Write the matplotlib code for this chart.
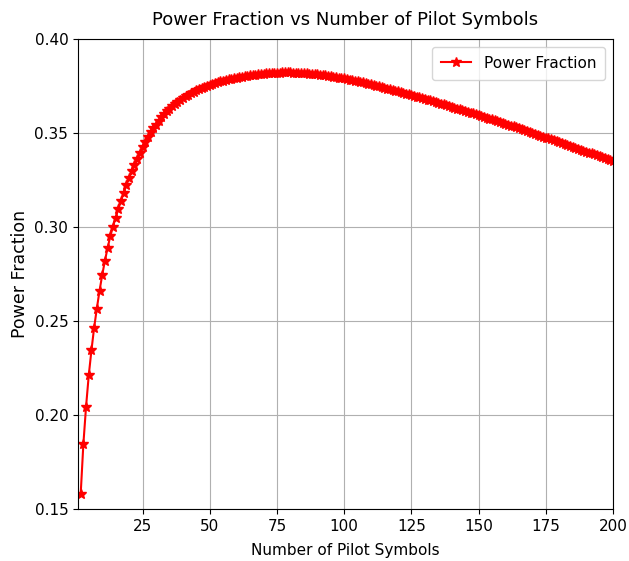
import numpy as np
import matplotlib
matplotlib.use('Agg')
import matplotlib.pyplot as plt

# Número de símbolos piloto (eje x)
n_piloto = np.arange(2, 201)

# Fracción de potencia
fraccion_inicio = [0.1580, 0.1846, 0.2045, 0.2211, 0.2344, 0.2464, 0.2566, 0.2660,
                   0.2744, 0.2820, 0.2888, 0.2950, 0.3002, 0.3050, 0.3096, 0.3140,
                   0.3183, 0.3223, 0.3261, 0.3297, 0.3331, 0.3363, 0.3394, 0.3423]  # 2..25
fraccion_subida = [0.3452, 0.3478, 0.3503, 0.3527, 0.3545, 0.3565, 0.3583, 0.3600,
                   0.3615, 0.3629, 0.3642, 0.3654, 0.3665, 0.3676, 0.3686, 0.3695,
                   0.3704, 0.3712, 0.3720, 0.3727, 0.3734, 0.3740, 0.3746, 0.3752,
                   0.3757]  # 26..50
fraccion_pico = [0.3762, 0.3767, 0.3771, 0.3775, 0.3779, 0.3783, 0.3786, 0.3789,
                 0.3792, 0.3795, 0.3798, 0.3800, 0.3803, 0.3805, 0.3807, 0.3809,
                 0.3811, 0.3813, 0.3814, 0.3816, 0.3817, 0.3818, 0.3819, 0.3820,
                 0.3821, 0.3821, 0.3822, 0.3822, 0.3822, 0.3822, 0.3821, 0.3821,
                 0.3820, 0.3819, 0.3818, 0.3817, 0.3816, 0.3815, 0.3813, 0.3812,
                 0.3810, 0.3808, 0.3806, 0.3804, 0.3802, 0.3800, 0.3797, 0.3795,
                 0.3792, 0.3790]  # 51..100
fraccion_bajada = [0.3787, 0.3784, 0.3781, 0.3778, 0.3775, 0.3772, 0.3769, 0.3765,
                   0.3762, 0.3758, 0.3755, 0.3751, 0.3748, 0.3744, 0.3740, 0.3736,
                   0.3733, 0.3729, 0.3725, 0.3721, 0.3717, 0.3713, 0.3709, 0.3705,
                   0.3701, 0.3697, 0.3693, 0.3689, 0.3685, 0.3681, 0.3677, 0.3673,
                   0.3669, 0.3664, 0.3660, 0.3656, 0.3652, 0.3647, 0.3643, 0.3639,
                   0.3635, 0.3630, 0.3626, 0.3622, 0.3617, 0.3613, 0.3608, 0.3604,
                   0.3600, 0.3595]  # 101..150
fraccion_final = [0.3591, 0.3586, 0.3582, 0.3577, 0.3572, 0.3568, 0.3563, 0.3558,
                  0.3554, 0.3549, 0.3544, 0.3539, 0.3535, 0.3530, 0.3525, 0.3520,
                  0.3515, 0.3510, 0.3506, 0.3501, 0.3496, 0.3491, 0.3486, 0.3481,
                  0.3476, 0.3471, 0.3466, 0.3461, 0.3456, 0.3451, 0.3446, 0.3441,
                  0.3436, 0.3431, 0.3426, 0.3421, 0.3416, 0.3411, 0.3406, 0.3401,
                  0.3396, 0.3391, 0.3386, 0.3381, 0.3376, 0.3371, 0.3366, 0.3360,
                  0.3355, 0.3350]  # 151..200

fraccion = fraccion_inicio + fraccion_subida + fraccion_pico + fraccion_bajada + fraccion_final

fig = plt.figure(figsize=(6.29, 5.61), dpi=100)
ax = fig.add_axes([0.124, 0.0927, 0.8506, 0.8378])
ax.plot(n_piloto, fraccion, '-*', color='r', markersize=7, linewidth=1.5, label='Power Fraction')

ax.set_xlim(1, 200)
ax.set_ylim(0.15, 0.40)
ax.set_title('Power Fraction vs Number of Pilot Symbols', fontsize=13, pad=10)
ax.set_xlabel('Number of Pilot Symbols', fontsize=11, labelpad=7)
ax.set_ylabel('Power Fraction', fontsize=12.5)
ax.tick_params(labelsize=11)
ax.grid(True)
ax.legend(loc='upper right', fontsize=11, borderpad=0.6)

fig.savefig('out.png', dpi=100)
